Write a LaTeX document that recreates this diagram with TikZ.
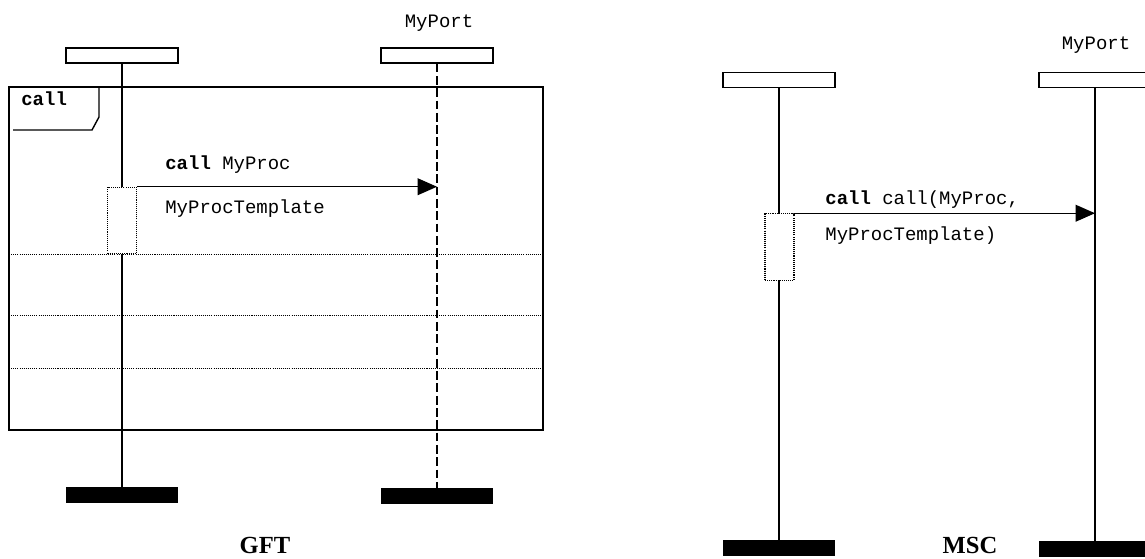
\documentclass[tikz,border=0pt]{standalone}
\usepackage{fontspec}
\setmainfont{Liberation Serif}
\setmonofont{Liberation Mono}
\usetikzlibrary{arrows.meta,positioning,calc}

\begin{document}
\begin{tikzpicture}[
  x=0.02cm, y=-0.02cm,
  font=\ttfamily\fontsize{10.8}{13}\selectfont,
  >={Triangle[length=11pt,width=9.5pt]},
  instbox/.style={draw, line width=0.8pt, fill=white, minimum width=2.24cm,
                  minimum height=0.3cm, inner sep=0pt},
  endbar/.style={fill=black, minimum width=2.24cm, minimum height=0.32cm,
                 inner sep=0pt},
  lifeline/.style={line width=0.8pt},
  portline/.style={line width=0.8pt, dash pattern=on 5pt off 2pt},
  actbox/.style={draw, fill=white, line width=0.6pt,
                 dash pattern=on 0.6pt off 0.6pt, minimum width=0.58cm,
                 minimum height=1.33cm, inner sep=0pt},
  msg/.style={->, line width=0.8pt},
  sepline/.style={line width=0.5pt, dash pattern=on 0.6pt off 0.6pt},
  lbl/.style={anchor=base west, inner sep=0pt},
  heading/.style={font=\rmfamily\bfseries\fontsize{14}{16}\selectfont,
                  anchor=base, inner sep=0pt}
]
\path[use as bounding box] (0,0) rectangle (1145,558);
\clip (0,0) rectangle (1145,558);

% GFT: test component and port
\node[instbox] (gftTc) at (122,55.5) {};
\node[instbox] (gftPort) at (437,55.5) {};
\node[inner sep=0pt, anchor=base] at (439,27) {MyPort};
\node[endbar] (gftTcEnd) at (122,495) {};
\node[endbar] (gftPortEnd) at (437,496) {};

% call frame with its dotted separators
\draw[line width=0.8pt] (9,87) rectangle (543,430);
\draw[line width=0.8pt] (99,87) -- (99,117) -- (92,130) -- (13,130);
\node[lbl, font=\ttfamily\bfseries\fontsize{10.8}{13}\selectfont] (gftKw)
  at (21,105) {call};
\foreach \y in {254,315,368} {
  \draw[sepline] (9,\y) -- (543,\y);
}

\draw[lifeline] (gftTc.south) -- (gftTcEnd.north);
\draw[portline] (gftPort.south) -- (gftPortEnd.north);

\node[actbox] (gftAct) at (122,220.5) {};
\draw[msg] (gftAct.north east) -- (gftAct.north east -| gftPort);
\node[lbl] (gftCall) at (165,169)
  {{\bfseries call} MyProc};
\node[lbl] (gftTpl) at (165,213) {MyProcTemplate};

\node[heading] (gft) at (265,553) {GFT};

% MSC: same call as message
\node[instbox] (mscTc) at (779,80) {};
\node[instbox] (mscPort) at (1095,80) {};
\node[inner sep=0pt, anchor=base] at (1096,49) {MyPort};
\node[endbar] (mscTcEnd) at (779,548) {};
\node[endbar] (mscPortEnd) at (1095,549) {};

\draw[lifeline] (mscTc.south) -- (mscTcEnd.north);
\draw[lifeline] (mscPort.south) -- (mscPortEnd.north);

\node[actbox] (mscAct) at (779.5,247) {};
\draw[msg] (mscAct.north east) -- (mscAct.north east -| mscPort);
\node[lbl] (mscCall) at (825,204)
  {{\bfseries call} call(MyProc,};
\node[lbl] (mscTpl) at (825,240) {MyProcTemplate)};

\node[heading] (msc) at (970,553) {MSC};

\end{tikzpicture}
\end{document}
